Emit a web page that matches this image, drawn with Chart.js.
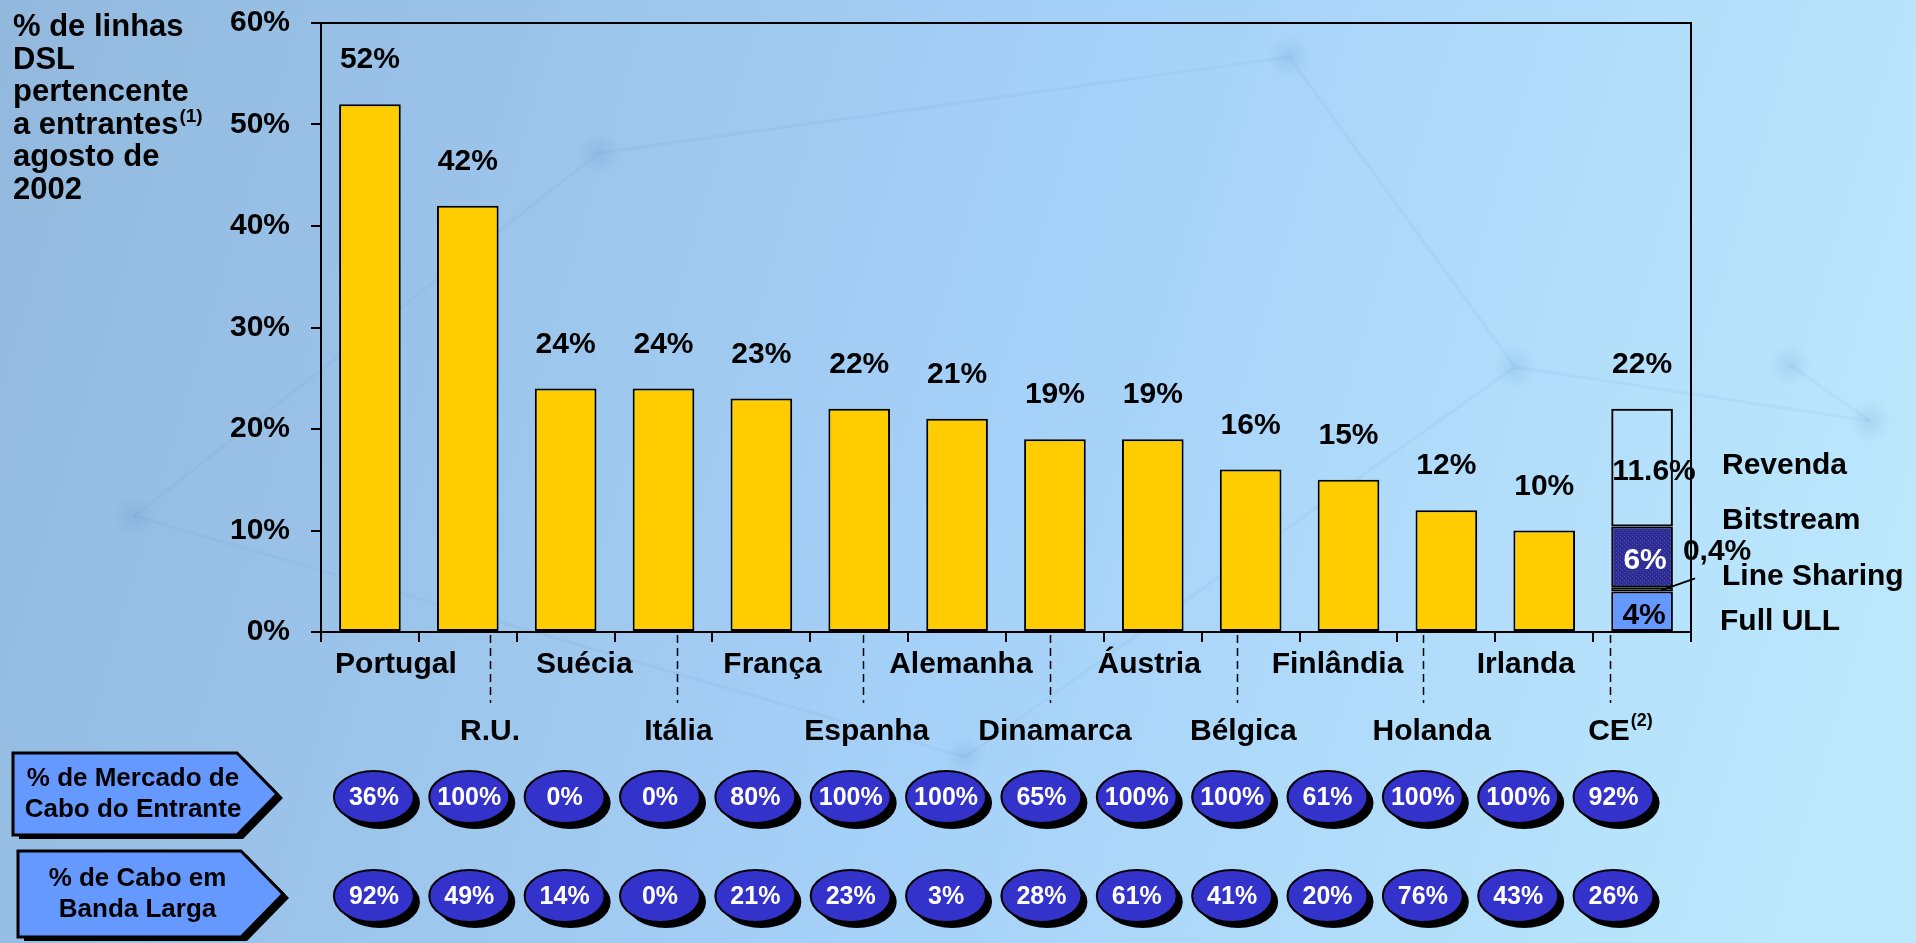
<!DOCTYPE html>
<html lang="pt">
<head>
<meta charset="utf-8">
<title>Linhas DSL pertencentes a entrantes</title>
<script src="https://cdn.jsdelivr.net/npm/chart.js@4.4.1/dist/chart.umd.min.js"></script>
<style>
  html, body { margin: 0; padding: 0; overflow: hidden; }
  #wrap { position: relative; width: 1916px; height: 943px; }
</style>
</head>
<body>
<div id="wrap"><canvas id="chart"></canvas></div>
<script>
"use strict";

// ---- data ----
var categories = ['Portugal', 'R.U.', 'Suécia', 'Itália', 'França', 'Espanha', 'Alemanha',
                  'Dinamarca', 'Áustria', 'Bélgica', 'Finlândia', 'Holanda', 'Irlanda', 'CE'];
var dslShare   = [52, 42, 24, 24, 23, 22, 21, 19, 19, 16, 15, 12, 10, null];
// CE average split by access type (only in the last column)
var ceFullULL      = [null, null, null, null, null, null, null, null, null, null, null, null, null, 4];
var ceLineSharing  = [null, null, null, null, null, null, null, null, null, null, null, null, null, 0.4];
var ceBitstream    = [null, null, null, null, null, null, null, null, null, null, null, null, null, 6];
var ceRevenda      = [null, null, null, null, null, null, null, null, null, null, null, null, null, 11.6];
var ceSegmentNames  = ['Full ULL', 'Line Sharing', 'Bitstream', 'Revenda'];
var ceSegmentLabels = ['4%', '0,4%', '6%', '11.6%'];
var cableMarketShare = [36, 100, 0, 0, 80, 100, 100, 65, 100, 100, 61, 100, 100, 92];
var cableBroadband   = [92, 49, 14, 0, 21, 23, 3, 28, 61, 41, 20, 76, 43, 26];
var yTickValues = [0, 10, 20, 30, 40, 50, 60];

var FONT = '"Liberation Sans", Arial, sans-serif';
function bold(px) { return 'bold ' + px + 'px ' + FONT; }

var ctx0 = document.getElementById('chart').getContext('2d');

function hatch() {
  var p = document.createElement('canvas');
  p.width = 4; p.height = 4;
  var x = p.getContext('2d');
  x.fillStyle = '#2c2c92';
  x.fillRect(0, 0, 4, 4);
  x.fillStyle = '#4a4ab8';
  x.fillRect(0, 0, 1, 1);
  x.fillRect(2, 2, 1, 1);
  return ctx0.createPattern(p, 'repeat');
}

// text with a raised footnote mark, centred or left aligned at x
function supText(ctx, main, sup, x, y, px, align) {
  ctx.font = bold(px);
  var w1 = ctx.measureText(main).width;
  ctx.font = bold(Math.round(px * 0.6));
  var w2 = ctx.measureText(sup).width;
  var left = align === 'center' ? x - (w1 + w2) / 2 : x;
  ctx.textAlign = 'left';
  ctx.font = bold(px);
  ctx.fillText(main, left, y);
  ctx.font = bold(Math.round(px * 0.6));
  ctx.fillText(sup, left + w1 + 1, y - px * 0.38);
}

function arrowPath(ctx, x, y, w, h, tip) {
  ctx.beginPath();
  ctx.moveTo(x, y);
  ctx.lineTo(x + w, y);
  ctx.lineTo(x + w + tip, y + h / 2);
  ctx.lineTo(x + w, y + h);
  ctx.lineTo(x, y + h);
  ctx.closePath();
}

function arrowBox(ctx, x, y, w, h, tip, lines) {
  ctx.fillStyle = '#000';
  arrowPath(ctx, x + 6, y + 4, w, h, tip);
  ctx.fill();
  ctx.fillStyle = '#6699ff';
  ctx.strokeStyle = '#000';
  ctx.lineWidth = 3;
  arrowPath(ctx, x, y, w, h, tip);
  ctx.fill();
  ctx.stroke();
  ctx.fillStyle = '#000';
  ctx.font = bold(26);
  ctx.textAlign = 'center';
  ctx.textBaseline = 'middle';
  var cy = y + h / 2;
  ctx.fillText(lines[0], x + w / 2 + 8, cy - 15);
  ctx.fillText(lines[1], x + w / 2 + 8, cy + 16);
}

function bubble(ctx, cx, cy, text) {
  ctx.fillStyle = '#000';
  ctx.beginPath();
  ctx.ellipse(cx + 6, cy + 6, 40, 26, 0, 0, Math.PI * 2);
  ctx.fill();
  ctx.fillStyle = '#3333cc';
  ctx.strokeStyle = '#000';
  ctx.lineWidth = 2;
  ctx.beginPath();
  ctx.ellipse(cx, cy, 40, 26, 0, 0, Math.PI * 2);
  ctx.fill();
  ctx.stroke();
  ctx.fillStyle = '#fff';
  ctx.font = bold(25);
  ctx.textAlign = 'center';
  ctx.textBaseline = 'middle';
  ctx.fillText(text, cx, cy + 1);
}

// faint network picture behind the slide
var netNodes = [[599, 153], [1289, 57], [134, 516], [1515, 367], [1870, 421], [965, 757], [1790, 365]];
var netLines = [[0, 1], [0, 2], [1, 3], [3, 4], [2, 5], [5, 3], [6, 4]];

var backdrop = {
  id: 'backdrop',
  beforeDraw: function (c) {
    var ctx = c.ctx, w = c.width, h = c.height;
    ctx.save();
    var g = ctx.createLinearGradient(0, 0, w, h * 0.6);
    g.addColorStop(0, '#92b8dd');
    g.addColorStop(0.55, '#a6d1f8');
    g.addColorStop(1, '#bce8fd');
    ctx.fillStyle = g;
    ctx.fillRect(0, 0, w, h);
    ctx.strokeStyle = 'rgba(60,100,170,0.05)';
    ctx.lineWidth = 3;
    netLines.forEach(function (l) {
      ctx.beginPath();
      ctx.moveTo(netNodes[l[0]][0], netNodes[l[0]][1]);
      ctx.lineTo(netNodes[l[1]][0], netNodes[l[1]][1]);
      ctx.stroke();
    });
    netNodes.forEach(function (n) {
      var r = ctx.createRadialGradient(n[0], n[1], 0, n[0], n[1], 22);
      r.addColorStop(0, 'rgba(70,120,190,0.15)');
      r.addColorStop(1, 'rgba(70,120,190,0)');
      ctx.fillStyle = r;
      ctx.fillRect(n[0] - 22, n[1] - 22, 44, 44);
    });
    ctx.restore();
  }
};

var annotate = {
  id: 'annotate',
  afterDraw: function (c) {
    var ctx = c.ctx, a = c.chartArea, xs = c.scales.x;
    var n = categories.length, ce = n - 1;
    ctx.save();

    // frame top + right
    ctx.strokeStyle = '#000';
    ctx.lineWidth = 2;
    ctx.beginPath();
    ctx.moveTo(a.left, a.top);
    ctx.lineTo(a.right, a.top);
    ctx.lineTo(a.right, a.bottom);
    ctx.stroke();

    // title at top left
    ctx.fillStyle = '#000';
    ctx.textBaseline = 'alphabetic';
    ctx.textAlign = 'left';
    ctx.font = bold(31);
    var tl = ['% de linhas', 'DSL', 'pertencente', null, 'agosto de', '2002'];
    tl.forEach(function (t, i) {
      var y = 36 + i * 32.6;
      if (t === null) supText(ctx, 'a entrantes', '(1)', 13, y, 31, 'left');
      else { ctx.font = bold(31); ctx.textAlign = 'left'; ctx.fillText(t, 13, y); }
    });

    // values above the bars
    ctx.textBaseline = 'middle';
    ctx.textAlign = 'center';
    ctx.font = bold(30);
    var m0 = c.getDatasetMeta(0);
    dslShare.forEach(function (v, i) {
      if (v === null) return;
      var b = m0.data[i];
      ctx.fillText(v + '%', b.x, b.y - 44);
    });

    // CE stacked column
    var seg = [1, 2, 3, 4].map(function (d) { return c.getDatasetMeta(d).data[ce]; });
    var total = [ceFullULL, ceLineSharing, ceBitstream, ceRevenda]
      .reduce(function (s, arr) { return s + arr[ce]; }, 0);
    ctx.fillText(Math.round(total) + '%', seg[3].x, seg[3].y - 44);
    var mid = function (b) { return (b.y + b.base) / 2; };
    ctx.fillText(ceSegmentLabels[0], seg[0].x + 2, mid(seg[0]) + 5);
    ctx.fillText(ceSegmentLabels[3], seg[3].x + 12, mid(seg[3]) + 4);
    ctx.fillStyle = '#fff';
    ctx.fillText(ceSegmentLabels[2], seg[2].x + 3, mid(seg[2]) + 4);
    ctx.fillStyle = '#000';
    ctx.fillText(ceSegmentLabels[1], seg[1].x + 75, mid(seg[1]) - 38);
    ctx.lineWidth = 2;
    ctx.beginPath();
    ctx.moveTo(seg[1].x + 19, mid(seg[1]) + 1);
    ctx.lineTo(seg[1].x + 53, mid(seg[1]) - 11);
    ctx.stroke();

    // access type names to the right
    ctx.textAlign = 'left';
    var lx = a.right + 31;
    ctx.fillText(ceSegmentNames[3], lx, mid(seg[3]) - 2);
    ctx.fillText(ceSegmentNames[2], lx, seg[2].y - 6);
    ctx.fillText(ceSegmentNames[1], lx, seg[1].y - 11);
    ctx.fillText(ceSegmentNames[0], lx - 2, mid(seg[0]) + 11);

    // category names on two staggered rows + dashed separators
    ctx.textAlign = 'center';
    for (var i = 0; i < n; i++) {
      var lxI = xs.getPixelForValue(i) + 26 - i * 3.7;
      var row = i % 2 === 0 ? a.bottom + 33 : a.bottom + 100;
      if (i === ce) supText(ctx, 'CE', '(2)', lxI, row, 30, 'center');
      else { ctx.font = bold(30); ctx.textAlign = 'center'; ctx.fillText(categories[i], lxI, row); }
    }
    ctx.setLineDash([8, 5]);
    ctx.lineWidth = 1.5;
    for (var j = 1; j < n; j += 2) {
      var dx = Math.round(xs.getPixelForValue(j) + 22 - (j - 1) * 4.5) + 0.5;
      ctx.beginPath();
      ctx.moveTo(dx, a.bottom + 3);
      ctx.lineTo(dx, a.bottom + 71);
      ctx.stroke();
    }
    ctx.setLineDash([]);

    // cable rows
    var r1 = a.bottom + 165, r2 = a.bottom + 264;
    arrowBox(ctx, 13, r1 - 44, 224, 82, 40, ['% de Mercado de', 'Cabo do Entrante']);
    arrowBox(ctx, 18, r2 - 45, 223, 86, 42, ['% de Cabo em', 'Banda Larga']);
    for (var k = 0; k < n; k++) {
      var bx = xs.getPixelForValue(k) + 4 - k * 2.5;
      bubble(ctx, bx, r1, cableMarketShare[k] + '%');
      bubble(ctx, bx, r2, cableBroadband[k] + '%');
    }
    ctx.restore();
  }
};

var barBase = { borderColor: '#000', borderWidth: 2, borderSkipped: false,
                categoryPercentage: 1.0, barPercentage: 0.63 };

new Chart(ctx0, {
  type: 'bar',
  data: {
    labels: categories,
    datasets: [
      Object.assign({ label: '% de linhas DSL', data: dslShare, backgroundColor: '#ffcc00' }, barBase),
      Object.assign({ label: ceSegmentNames[0], data: ceFullULL, backgroundColor: '#6699ff' }, barBase),
      Object.assign({ label: ceSegmentNames[1], data: ceLineSharing, backgroundColor: '#ffcc00' }, barBase),
      Object.assign({ label: ceSegmentNames[2], data: ceBitstream, backgroundColor: hatch() }, barBase),
      Object.assign({ label: ceSegmentNames[3], data: ceRevenda, backgroundColor: 'rgba(255,255,255,0)' }, barBase)
    ]
  },
  options: {
    responsive: true,
    maintainAspectRatio: false,
    animation: false,
    layout: { padding: { top: 23, right: 225, bottom: 0, left: 0 } },
    plugins: { legend: { display: false }, tooltip: { enabled: false } },
    scales: {
      x: {
        stacked: true,
        grid: { drawOnChartArea: false, color: '#000', lineWidth: 2, tickLength: 10, offset: true },
        border: { color: '#000', width: 2 },
        ticks: { display: false },
        afterFit: function (s) { s.height = 311; }
      },
      y: {
        stacked: true,
        min: yTickValues[0],
        max: yTickValues[yTickValues.length - 1],
        afterBuildTicks: function (s) { s.ticks = yTickValues.map(function (v) { return { value: v }; }); },
        grid: { drawOnChartArea: false, color: '#000', lineWidth: 2, tickLength: 10 },
        border: { color: '#000', width: 2 },
        ticks: { color: '#000', font: { family: FONT, size: 30, weight: 'bold' }, padding: 21,
                 callback: function (v) { return v + '%'; } },
        afterFit: function (s) { s.width = 321; s.paddingTop = 0; s.paddingBottom = 0; }
      }
    }
  },
  plugins: [backdrop, annotate]
});
</script>
</body>
</html>
